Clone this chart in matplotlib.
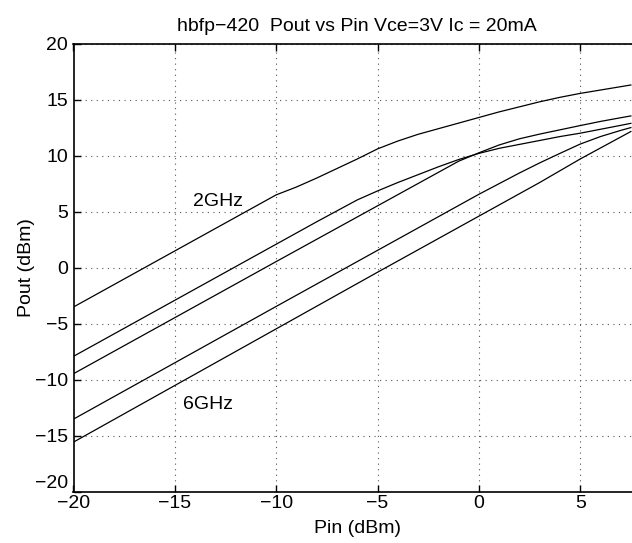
import matplotlib
matplotlib.use("Agg")
import matplotlib.pyplot as plt

plt.rcParams['font.family'] = ['Liberation Sans', 'DejaVu Sans']

# Curve data (Pin in dBm, Pout in dBm)
pin_a = [-20, -10, -9, -8, -7, -6, -5, -4, -3, -2, -1, 0, 1, 2, 3, 4, 5, 6, 7, 7.5]
pout_a = [-3.5, 6.5, 7.2, 8.0, 8.85, 9.7, 10.6, 11.3, 11.9, 12.4, 12.9, 13.4, 13.9, 14.35, 14.8, 15.2, 15.55, 15.85, 16.15, 16.3]

pin_b = [-20, -8, -6, -5, -4, -3, -2, -1, 0, 1, 2, 3, 4, 5, 6, 7, 7.5]
pout_b = [-7.9, 4.1, 6.05, 6.85, 7.6, 8.3, 9.0, 9.65, 10.2, 10.65, 11.0, 11.35, 11.7, 12.0, 12.35, 12.7, 12.88]

pin_c = [-20, -10, -1, 0, 1, 2, 3, 4, 5, 6, 7, 7.5]
pout_c = [-9.45, 0.55, 9.5, 10.25, 10.95, 11.5, 11.92, 12.3, 12.68, 13.05, 13.38, 13.54]

pin_d = [-20, -10, 0, 1, 2, 3, 4, 5, 6, 7, 7.5]
pout_d = [-13.5, -3.45, 6.55, 7.5, 8.45, 9.35, 10.2, 11.03, 11.7, 12.25, 12.5]

pin_e = [-20, -15, -10, -5, 0, 3, 5, 7.5]
pout_e = [-15.55, -10.5, -5.45, -0.4, 4.6, 7.6, 9.7, 12.15]

xticks = [-20, -15, -10, -5, 0, 5]
yticks = [-20, -15, -10, -5, 0, 5, 10, 15, 20]

title = "hbfp\u2212420  Pout vs Pin Vce=3V Ic = 20mA"
xlabel = "Pin (dBm)"
ylabel = "Pout (dBm)"
label_2g = "2GHz"
label_6g = "6GHz"

FS = 14

fig = plt.figure(figsize=(6.32, 5.43), dpi=100)
ax = fig.add_axes([73.5 / 632, 51 / 543, (641 - 73.5) / 632, 448.5 / 543])

for xs, ys in [(pin_a, pout_a), (pin_b, pout_b), (pin_c, pout_c), (pin_d, pout_d), (pin_e, pout_e)]:
    ax.plot(xs, ys, color='black', lw=0.9)

ax.set_xlim(-20, 8)
ax.set_ylim(-20, 20)
ax.set_xticks(xticks)
ax.set_yticks(yticks)
ax.set_xticklabels([str(t).replace('-', '\u2212') for t in xticks])
ax.set_yticklabels([str(t).replace('-', '\u2212') for t in yticks])
ax.tick_params(direction='in', length=5, width=1, labelsize=FS, top=True, right=True)
ax.tick_params(axis='x', pad=2)
ax.tick_params(axis='y', pad=4)
ax.get_yticklabels()[0].set_verticalalignment('bottom')
ax.grid(True, linestyle=(0, (1, 4)), color='#555555', lw=0.8)
for s in ax.spines.values():
    s.set_linewidth(1.2)

ax.text(-14.1, 5.95, label_2g, fontsize=FS, va='center', ha='left')
ax.text(-14.6, -12.2, label_6g, fontsize=FS, va='center', ha='left')

ax.set_title(title, fontsize=FS, pad=9)
ax.set_xlabel(xlabel, fontsize=FS, labelpad=6)
ax.set_ylabel(ylabel, fontsize=FS, labelpad=0)

fig.savefig("out.png", dpi=100)
